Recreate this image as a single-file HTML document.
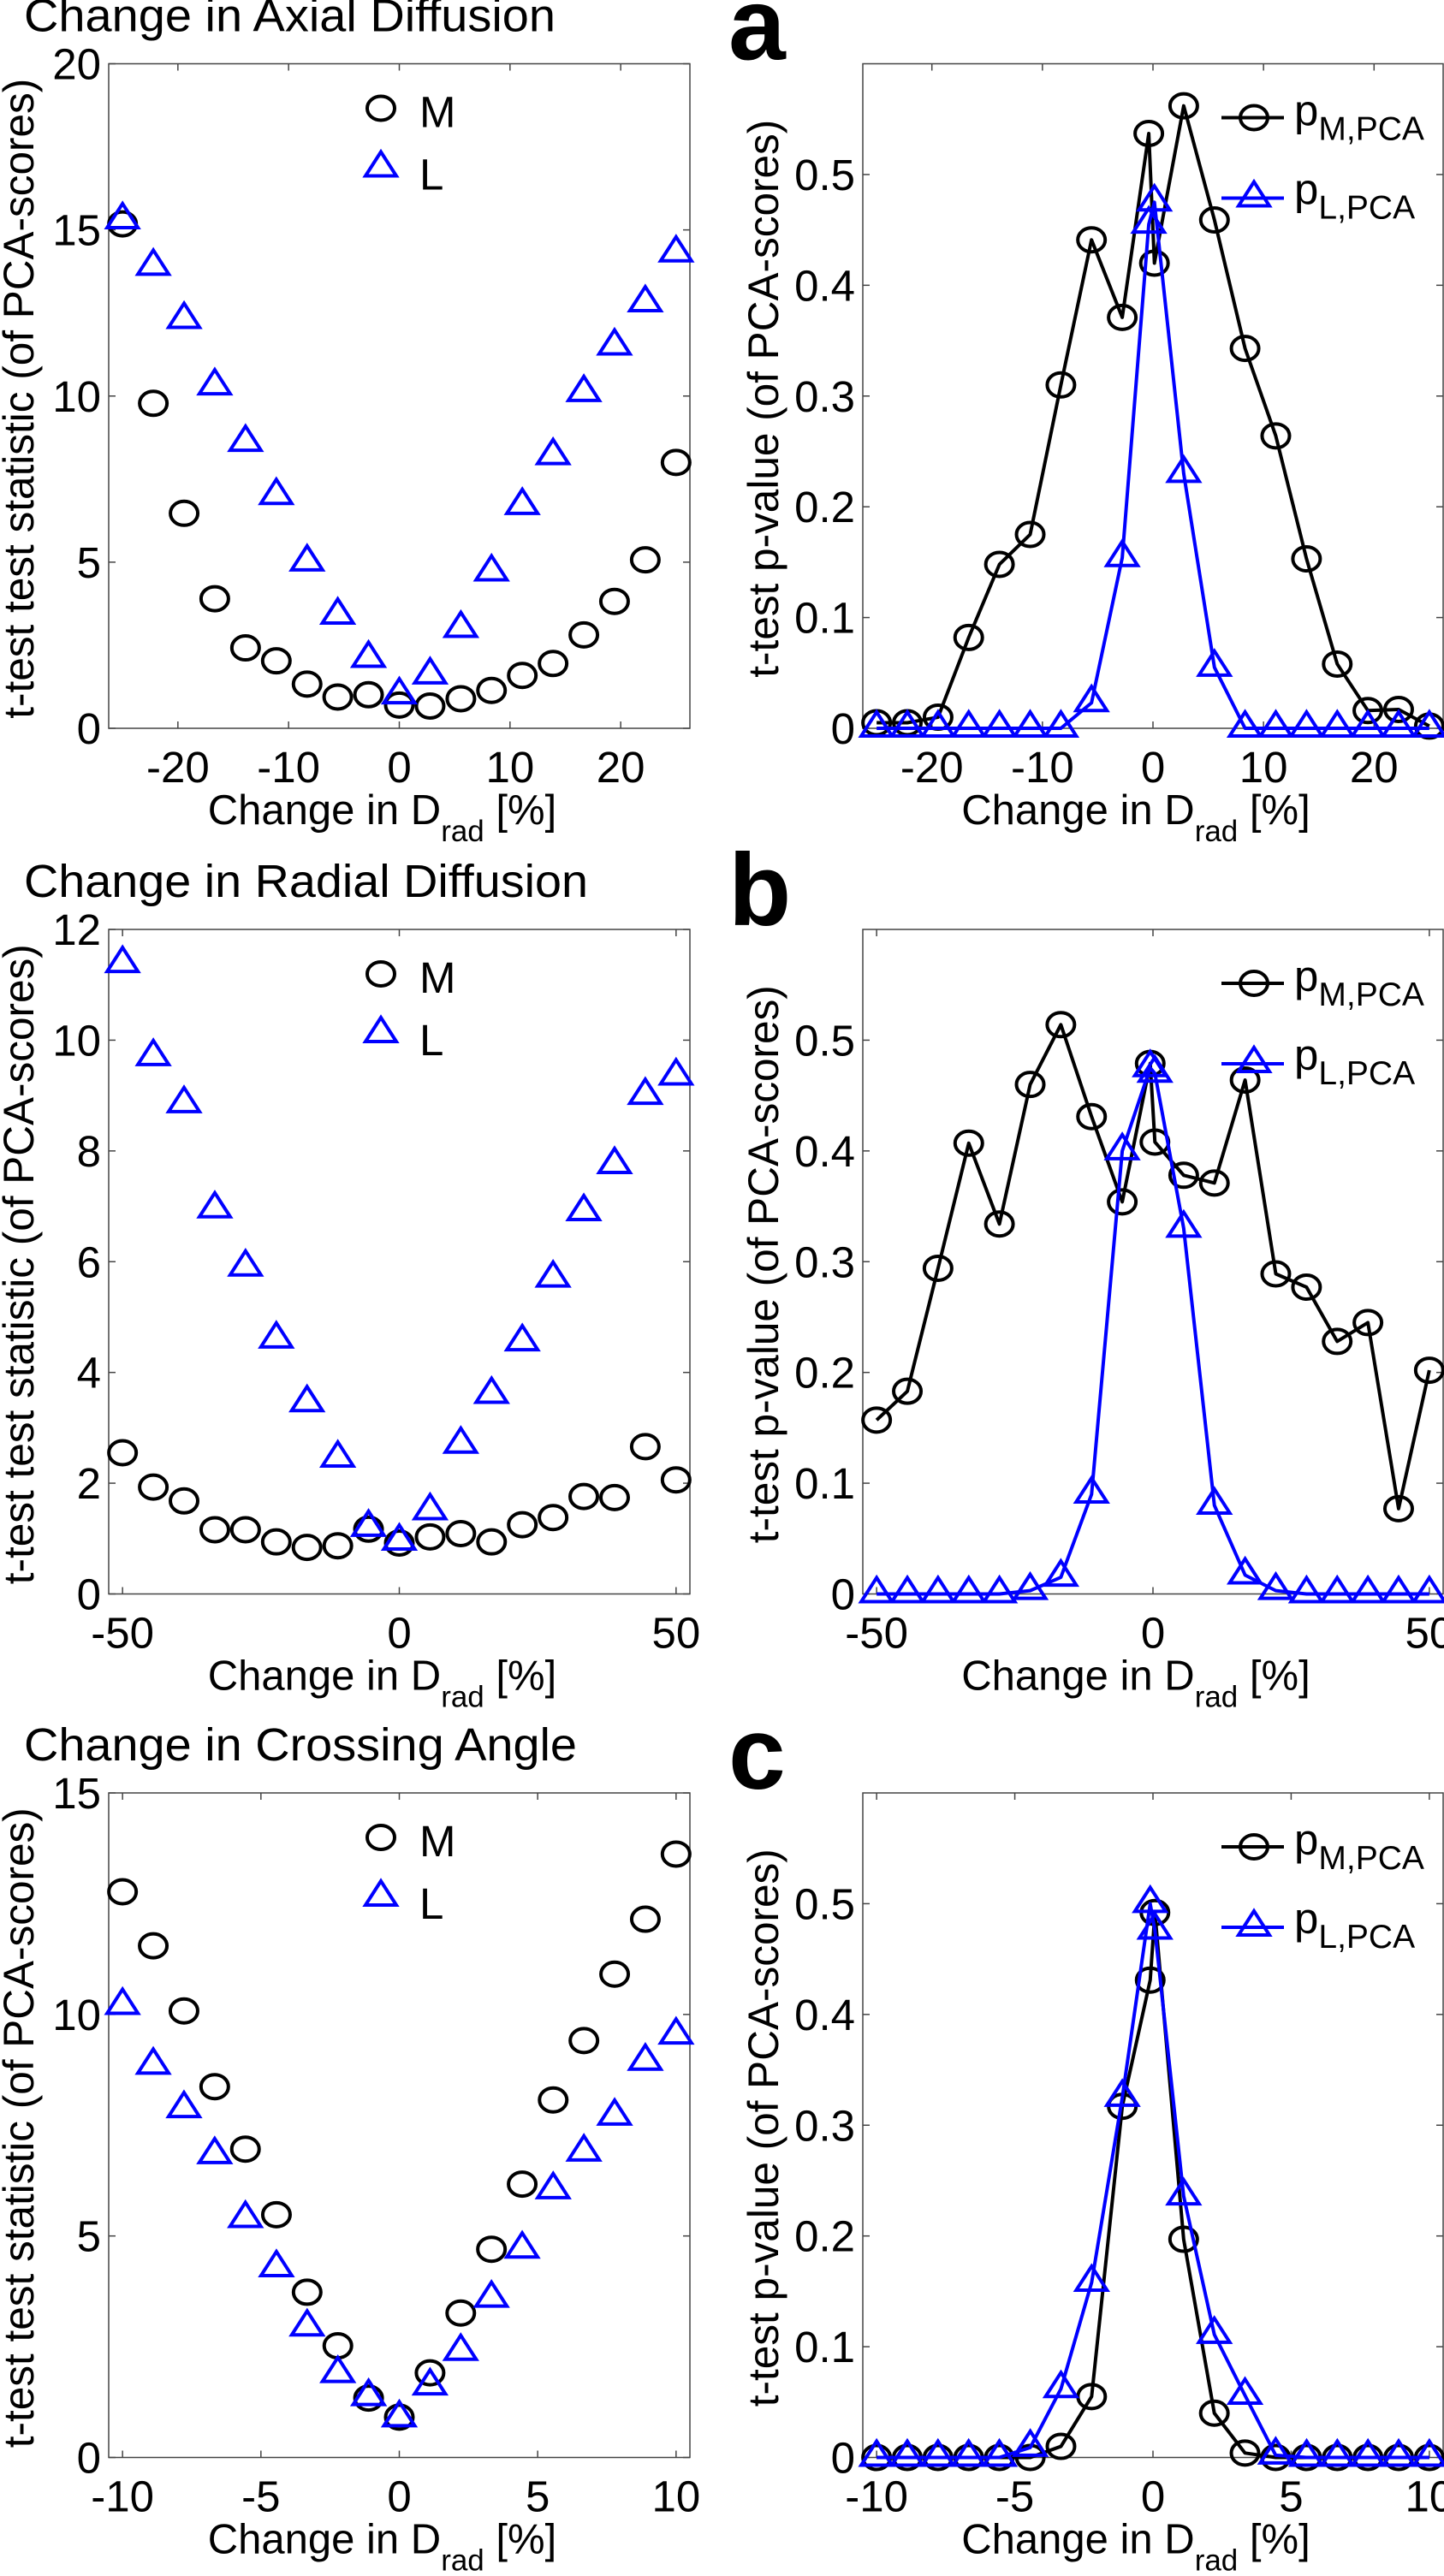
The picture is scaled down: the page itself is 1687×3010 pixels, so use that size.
<!DOCTYPE html>
<html><head><meta charset="utf-8"><style>
html,body{margin:0;padding:0;background:#fff;}
svg{display:block;font-family:"Liberation Sans",Arial,sans-serif;}
</style></head><body>
<svg id="fig" width="1687" height="3010" viewBox="0 0 1687 3010" xmlns="http://www.w3.org/2000/svg"></svg>
<script>
// ---- data ----
const gridA = [-25,-22.22,-19.44,-16.67,-13.89,-11.11,-8.33,-5.56,-2.78,0,2.78,5.56,8.33,11.11,13.89,16.67,19.44,22.22,25];
const aTM = [15.18,9.78,6.47,3.9,2.42,2.03,1.33,0.94,1.01,0.70,0.67,0.89,1.14,1.59,1.95,2.81,3.82,5.07,8.0];
const aTL = [15.3,13.9,12.3,10.3,8.6,7.0,5.0,3.4,2.1,1.0,1.6,3.0,4.7,6.7,8.2,10.1,11.5,12.8,14.3];
const gridA2 = [-25,-22.22,-19.44,-16.67,-13.89,-11.11,-8.33,-5.56,-2.78,-0.38,0.13,2.78,5.56,8.33,11.11,13.89,16.67,19.44,22.22,25];
const aPM = [0.005,0.005,0.01,0.082,0.148,0.175,0.31,0.441,0.371,0.537,0.42,0.562,0.459,0.343,0.264,0.153,0.058,0.016,0.017,0.002];
const aPL = [0,0,0,0,0,0,0,0.023,0.154,0.455,0.475,0.23,0.055,0,0,0,0,0,0,0];

const gridB = [-50,-44.44,-38.89,-33.33,-27.78,-22.22,-16.67,-11.11,-5.56,0,5.56,11.11,16.67,22.22,27.78,33.33,38.89,44.44,50];
const bTM = [2.55,1.93,1.68,1.16,1.16,0.94,0.84,0.87,1.17,0.92,1.03,1.09,0.94,1.25,1.38,1.76,1.74,2.66,2.06];
const bTL = [11.38,9.7,8.85,6.95,5.9,4.6,3.45,2.45,1.2,0.95,1.5,2.7,3.6,4.55,5.7,6.9,7.75,9.0,9.35];
const gridB2 = [-50,-44.44,-38.89,-33.33,-27.78,-22.22,-16.67,-11.11,-5.56,-0.5,0.35,5.56,11.11,16.67,22.22,27.78,33.33,38.89,44.44,50];
const bPM = [0.157,0.183,0.294,0.407,0.334,0.460,0.514,0.431,0.354,0.479,0.408,0.378,0.371,0.464,0.289,0.277,0.228,0.245,0.077,0.202];
const bPL = [0,0,0,0,0,0.003,0.015,0.09,0.40,0.475,0.47,0.33,0.08,0.017,0.003,0,0,0,0,0];

const gridC = [-10,-8.89,-7.78,-6.67,-5.56,-4.44,-3.33,-2.22,-1.11,0,1.11,2.22,3.33,4.44,5.56,6.67,7.78,8.89,10];
const cTM = [12.77,11.55,10.08,8.37,6.96,5.48,3.73,2.52,1.34,0.91,1.91,3.26,4.70,6.17,8.07,9.41,10.91,12.15,13.62];
const cTL = [10.2,8.85,7.87,6.83,5.39,4.28,2.94,1.89,1.37,0.89,1.61,2.39,3.59,4.70,6.04,6.89,7.7,8.94,9.53];
const gridC2 = [-10,-8.89,-7.78,-6.67,-5.56,-4.44,-3.33,-2.22,-1.11,-0.1,0.07,1.11,2.22,3.33,4.44,5.56,6.67,7.78,8.89,10];
const cPM = [0,0,0,0,0,0,0.010,0.055,0.317,0.431,0.492,0.197,0.040,0.004,0,0,0,0,0,0];
const cPL = [0,0,0,0,0,0.009,0.062,0.158,0.325,0.50,0.476,0.236,0.111,0.056,0.002,0,0,0,0,0];

const xTicksA = [-20,-10,0,10,20];
const xTicksB = [-50,0,50];
const xTicksC = [-10,-5,0,5,10];
const yTicksA = [0,5,10,15,20];
const yTicksB = [0,2,4,6,8,10,12];
const yTicksC = [0,5,10,15];
const yTicksP = [0,0.1,0.2,0.3,0.4,0.5];
const yTickLabelsP = ["0","0.1","0.2","0.3","0.4","0.5"];

// ---- drawing ----
const NS = "http://www.w3.org/2000/svg";
const svg = document.getElementById('fig');
function mk(tag, attrs, parent){
  const e = document.createElementNS(NS, tag);
  for (const k in attrs) e.setAttribute(k, attrs[k]);
  (parent||svg).appendChild(e);
  return e;
}
function circle(g, x, y, color){
  const c = mk('ellipse',{cx:x,cy:y,rx:16,ry:14,fill:'none',stroke:color,'stroke-width':4},g);
  
  
}
function tri(g, x, y, color){
  const p = mk('polygon',{points:`${x},${y-19} ${x+18},${y+9} ${x-18},${y+9}`,fill:'none',stroke:color,'stroke-width':4,'stroke-linejoin':'miter'},g);
  
  
}

function panel(o){
  const g = mk('g',{});
  
  
  const L=o.x0, R=o.x1, T=o.top, B=o.top+776.5;
  const sx = v => L + (v - o.xmin)/(o.xmax-o.xmin)*(R-L);
  const sy = v => B - (v - o.ymin)/(o.ymax-o.ymin)*(B-T);
  const box = mk('rect',{x:L,y:T,width:R-L,height:B-T,fill:'none',stroke:'#444','stroke-width':1.5},g);
  
  
  o.xt.forEach(v=>{
    const x=sx(v);
    mk('line',{x1:x,y1:B,x2:x,y2:B-8,stroke:'#444','stroke-width':1.5},g);
    mk('line',{x1:x,y1:T,x2:x,y2:T+8,stroke:'#444','stroke-width':1.5},g);
    const t=mk('text',{x:x,y:B+63,'font-size':51,'text-anchor':'middle'},g);
    t.textContent = String(v);
    
    
  });
  o.yt.forEach((v,i)=>{
    const y=sy(v);
    mk('line',{x1:L,y1:y,x2:L+8,y2:y,stroke:'#444','stroke-width':1.5},g);
    mk('line',{x1:R,y1:y,x2:R-8,y2:y,stroke:'#444','stroke-width':1.5},g);
    const t=mk('text',{x:L-9,y:y+18,'font-size':51,'text-anchor':'end'},g);
    t.textContent = o.ytl ? o.ytl[i] : String(v);
    
    
  });
  const xl = mk('text',{x:(L+R)/2-20,y:B+112,'font-size':49,'text-anchor':'middle'},g);
  
  
  xl.innerHTML = 'Change in D<tspan font-size="35" dy="20">rad</tspan><tspan dy="-20"> [%]</tspan>';
  const yc = (T+B)/2+3;
  const yl = mk('text',{x:0,y:0,'font-size':50,'text-anchor':'middle',transform:`translate(${o.ylx},${yc}) rotate(-90)`,textLength:o.ylLen,lengthAdjust:'spacingAndGlyphs'},g);
  yl.textContent = o.ylabel;
  
  
  o.series.forEach(s=>{
    const sg = mk('g',{},g);
    
    
    if (s.line){
      const pts = s.xs.map((x,i)=>sx(x)+','+sy(s.ys[i])).join(' ');
      const pl = mk('polyline',{points:pts,fill:'none',stroke:s.color,'stroke-width':4,'stroke-linejoin':'round'},sg);
      
      
    }
    s.xs.forEach((x,i)=>{
      if (s.marker==='o') circle(sg, sx(x), sy(s.ys[i]), s.color);
      else tri(sg, sx(x), sy(s.ys[i]), s.color);
    });
  });
  const lg = mk('g',{},g);
  
  
  if (!o.lineLegend){
    circle(lg, 445, T+52, '#000');
    tri(lg, 445, T+122, '#0000ff');
    const m=mk('text',{x:490,y:T+74,'font-size':51},lg); m.textContent='M';
     
    const l=mk('text',{x:490,y:T+147,'font-size':51},lg); l.textContent='L';
     
  } else {
    mk('line',{x1:1427,y1:T+63,x2:1500,y2:T+63,stroke:'#000','stroke-width':4},lg);
    circle(lg, 1465, T+63, '#000');
    mk('line',{x1:1427,y1:T+157,x2:1500,y2:T+157,stroke:'#0000ff','stroke-width':4},lg);
    tri(lg, 1465, T+157, '#0000ff');
    const m=mk('text',{x:1512,y:T+72,'font-size':51},lg);
    m.innerHTML='p<tspan font-size="39" dy="17">M,PCA</tspan>';
     
    const l=mk('text',{x:1512,y:T+164,'font-size':51},lg);
    l.innerHTML='p<tspan font-size="39" dy="17">L,PCA</tspan>';
     
  }
}

const rows = [
  {top:74.5, title:'Change in Axial Diffusion', tlen:621, letter:'a', xmin:-26.25, xmax:26.25, xt:xTicksA, ymax:20, yt:yTicksA,
   gl:gridA, tm:aTM, tl:aTL, gr:gridA2, pm:aPM, pl:aPL},
  {top:1086, title:'Change in Radial Diffusion', tlen:659, letter:'b', xmin:-52.5, xmax:52.5, xt:xTicksB, ymax:12, yt:yTicksB,
   gl:gridB, tm:bTM, tl:bTL, gr:gridB2, pm:bPM, pl:bPL},
  {top:2095, title:'Change in Crossing Angle', tlen:646, letter:'c', xmin:-10.5, xmax:10.5, xt:xTicksC, ymax:15, yt:yTicksC,
   gl:gridC, tm:cTM, tl:cTL, gr:gridC2, pm:cPM, pl:cPL}
];

rows.forEach(r=>{
  const t = mk('text',{x:28,y:r.top-38,'font-size':54,textLength:r.tlen,lengthAdjust:'spacingAndGlyphs'});
  t.textContent = r.title;
  
  
  const lt = mk('text',{x:851,y:r.top-5,'font-size':120,'font-weight':'bold'});
  lt.textContent = r.letter;
  
  
  panel({name:'t-stat-plot-'+r.letter, x0:127, x1:806, top:r.top, xmin:r.xmin, xmax:r.xmax, ymin:0, ymax:r.ymax,
    xt:r.xt, yt:r.yt, ylx:39, ylLen:748, ylabel:'t-test test statistic (of PCA-scores)',
    series:[{name:'series-m',xs:r.gl,ys:r.tm,color:'#000',marker:'o'},
            {name:'series-l',xs:r.gl,ys:r.tl,color:'#0000ff',marker:'t'}]});
  panel({name:'p-value-plot-'+r.letter, x0:1008, x1:1686, top:r.top, xmin:r.xmin, xmax:r.xmax, ymin:0, ymax:0.6,
    xt:r.xt, yt:yTicksP, ytl:yTickLabelsP, ylx:909, ylLen:652, ylabel:'t-test p-value (of PCA-scores)', lineLegend:true,
    series:[{name:'series-p-m',xs:r.gr,ys:r.pm,color:'#000',marker:'o',line:true},
            {name:'series-p-l',xs:r.gr,ys:r.pl,color:'#0000ff',marker:'t',line:true}]});
});
</script>
</body></html>
